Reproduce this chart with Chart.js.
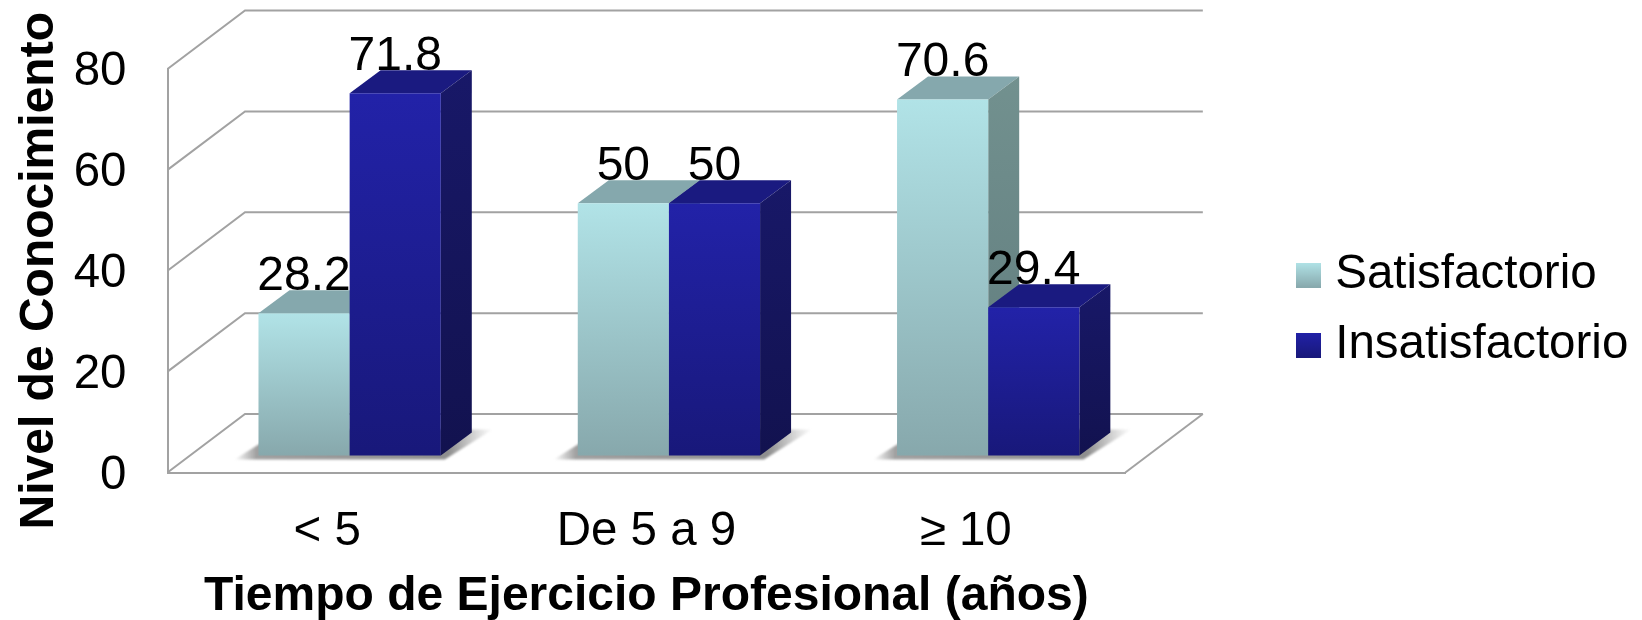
<!DOCTYPE html>
<html lang="es">
<head>
<meta charset="UTF-8">
<title>Nivel de Conocimiento</title>
<script src="https://cdn.jsdelivr.net/npm/chart.js"></script>
<style>
    body { margin: 0; background: #fff; }
    canvas { display: block; }
</style>
</head>
<body>
<canvas id="chart" width="1642" height="620"></canvas>
<script>
const categories = ['< 5', 'De 5 a 9', '≥ 10'];
const satisfactorio = [28.2, 50, 70.6];
const insatisfactorio = [71.8, 50, 29.4];
const seriesNames = ['Satisfactorio', 'Insatisfactorio'];

const FONT = '"Liberation Sans", Arial, sans-serif';
const GRID = '#a2a2a2';

// the chart area is the front plane, walls go back by WALL and bars sit BAR_SHIFT into the floor
const WALL = { x: 77.5, y: -58.5 };
const BAR_SHIFT = { x: 22.5, y: -17 };
const BAR_DEPTH = { x: 31, y: -23 };

const lightBar = { front: ['#b1e3e7', '#87a8ac'], top: '#85a8ad', side: ['#72918f', '#5f7a7c'] };
const blueBar = { front: ['#2222a8', '#18187a'], top: '#1a1a80', side: ['#181868', '#12124f'] };
const barStyles = [lightBar, blueBar];

function gradient(c, y0, y1, stops) {
    const g = c.createLinearGradient(0, y0, 0, y1);
    g.addColorStop(0, stops[0]);
    g.addColorStop(1, stops[1]);
    return g;
}

function frontFill(stops) {
    return function (ctx) {
        const chart = ctx.chart;
        if (!chart.chartArea || !ctx.parsed) return stops[0];
        const y = chart.scales.y;
        return gradient(chart.ctx, y.getPixelForValue(ctx.parsed.y), y.getPixelForValue(0), stops);
    };
}

function swatch(stops) {
    const c = document.createElement('canvas');
    c.width = 25;
    c.height = 25;
    const x = c.getContext('2d');
    x.fillStyle = gradient(x, 0, 25, stops);
    x.fillRect(0, 0, 25, 25);
    return c;
}

function drawWalls(chart) {
    const ctx = chart.ctx, area = chart.chartArea, y = chart.scales.y;
    ctx.save();
    ctx.strokeStyle = GRID;
    ctx.lineWidth = 2;
    y.ticks.forEach(t => {
        const py = y.getPixelForValue(t.value);
        ctx.beginPath();
        ctx.moveTo(area.left, py);
        ctx.lineTo(area.left + WALL.x, py + WALL.y);
        ctx.lineTo(area.right + WALL.x, py + WALL.y);
        ctx.stroke();
    });
    ctx.beginPath();
    ctx.moveTo(area.right, area.bottom);
    ctx.lineTo(area.right + WALL.x, area.bottom + WALL.y);
    ctx.stroke();
    ctx.restore();
}

// soft shadow of each bar pair on the floor, fading out left and right
function drawShadows(chart) {
    const ctx = chart.ctx;
    const m0 = chart.getDatasetMeta(0).data, m1 = chart.getDatasetMeta(1).data;
    ctx.save();
    ctx.translate(BAR_SHIFT.x, BAR_SHIFT.y);
    ctx.filter = 'blur(1px)';
    m0.forEach((bar, i) => {
        const l = bar.x - bar.width / 2, r = m1[i].x + m1[i].width / 2, b = bar.base;
        const g = ctx.createLinearGradient(l - 24, 0, r + 52, 0);
        const w = r - l + 76;
        g.addColorStop(0, 'rgba(150,150,150,0)');
        g.addColorStop(22 / w, 'rgba(150,150,150,0.9)');
        g.addColorStop((r - l + 32) / w, 'rgba(130,130,130,0.9)');
        g.addColorStop(1, 'rgba(150,150,150,0)');
        ctx.fillStyle = g;
        ctx.beginPath();
        ctx.moveTo(l - 24, b + 4);
        ctx.lineTo(r + 4, b + 4);
        ctx.lineTo(r + 52, b - 26);
        ctx.lineTo(l + 24, b - 26);
        ctx.closePath();
        ctx.fill();
    });
    ctx.restore();
}

// label first, then top and side: the bar tops cut into the labels in the reference
function drawFaces(chart, index) {
    const ctx = chart.ctx, style = barStyles[index];
    chart.getDatasetMeta(index).data.forEach((bar, i) => {
        const l = bar.x - bar.width / 2, r = bar.x + bar.width / 2;
        ctx.fillStyle = '#000';
        ctx.font = '48px ' + FONT;
        ctx.textAlign = 'center';
        ctx.textBaseline = 'alphabetic';
        ctx.fillText(String(chart.data.datasets[index].data[i]), bar.x, bar.y + BAR_DEPTH.y);

        ctx.fillStyle = style.top;
        ctx.beginPath();
        ctx.moveTo(l, bar.y);
        ctx.lineTo(r, bar.y);
        ctx.lineTo(r + BAR_DEPTH.x, bar.y + BAR_DEPTH.y);
        ctx.lineTo(l + BAR_DEPTH.x, bar.y + BAR_DEPTH.y);
        ctx.closePath();
        ctx.fill();

        ctx.fillStyle = gradient(ctx, bar.y + BAR_DEPTH.y, bar.base, style.side);
        ctx.beginPath();
        ctx.moveTo(r, bar.y);
        ctx.lineTo(r + BAR_DEPTH.x, bar.y + BAR_DEPTH.y);
        ctx.lineTo(r + BAR_DEPTH.x, bar.base + BAR_DEPTH.y);
        ctx.lineTo(r, bar.base);
        ctx.closePath();
        ctx.fill();
    });
}

const bars3d = {
    id: 'bars3d',
    afterLayout(chart) {
        // legend sits mid height of the page, closer to the plot than the box model allows
        chart.legend.left = 1283;
        chart.legend.top = 0;
        chart.legend.bottom = 620;
    },
    // the library draws the last dataset first, here the left bar has to go under the right one
    beforeDatasetsDraw(chart) {
        const ctx = chart.ctx;
        drawWalls(chart);
        drawShadows(chart);
        [0, 1].forEach(i => {
            ctx.save();
            ctx.translate(BAR_SHIFT.x, BAR_SHIFT.y);
            drawFaces(chart, i);
            chart.getDatasetMeta(i).controller.draw();
            ctx.restore();
        });
        return false;
    }
};

new Chart(document.getElementById('chart'), {
    type: 'bar',
    data: {
        labels: categories,
        datasets: [
            { label: seriesNames[0], data: satisfactorio, backgroundColor: frontFill(lightBar.front) },
            { label: seriesNames[1], data: insatisfactorio, backgroundColor: frontFill(blueBar.front) }
        ]
    },
    options: {
        responsive: false,
        animation: false,
        categoryPercentage: 0.571,
        barPercentage: 1,
        layout: { padding: { top: 69, bottom: 0, left: 0, right: 0 } },
        plugins: {
            tooltip: { enabled: false },
            legend: {
                position: 'right',
                labels: {
                    color: '#000',
                    font: { family: FONT, size: 47.5 },
                    usePointStyle: true,
                    pointStyleWidth: 6,
                    padding: 22.5,
                    generateLabels: () => seriesNames.map((name, i) => ({
                        text: name,
                        datasetIndex: i,
                        pointStyle: swatch(barStyles[i].front),
                        fontColor: '#000'
                    }))
                }
            }
        },
        scales: {
            x: {
                grid: { display: false },
                border: { color: GRID, width: 2 },
                ticks: { color: '#000', font: { family: FONT, size: 47.5 }, padding: 23, maxRotation: 0 },
                title: {
                    display: true,
                    text: 'Tiempo de Ejercicio Profesional (años)',
                    color: '#000',
                    font: { family: FONT, size: 48, weight: 'bold' },
                    padding: { top: 0, bottom: -6 }
                },
                afterFit(s) { s.height = 147.5; }
            },
            y: {
                min: 0,
                max: 80,
                grid: { display: false },
                border: { color: GRID, width: 2 },
                ticks: { stepSize: 20, color: '#000', font: { family: FONT, size: 47.5 }, padding: 33, labelOffset: 3 },
                title: {
                    display: true,
                    text: 'Nivel de Conocimiento',
                    color: '#000',
                    font: { family: FONT, size: 48, weight: 'bold' },
                    padding: { top: 11, bottom: 0 }
                },
                afterFit(s) { s.width = 167.5; }
            },
            // empty spacer between the plot and the legend
            spacer: {
                position: 'right',
                grid: { display: false },
                border: { display: false },
                ticks: { display: false },
                afterFit(s) { s.width = 243; }
            }
        }
    },
    plugins: [bars3d]
});
</script>
</body>
</html>
